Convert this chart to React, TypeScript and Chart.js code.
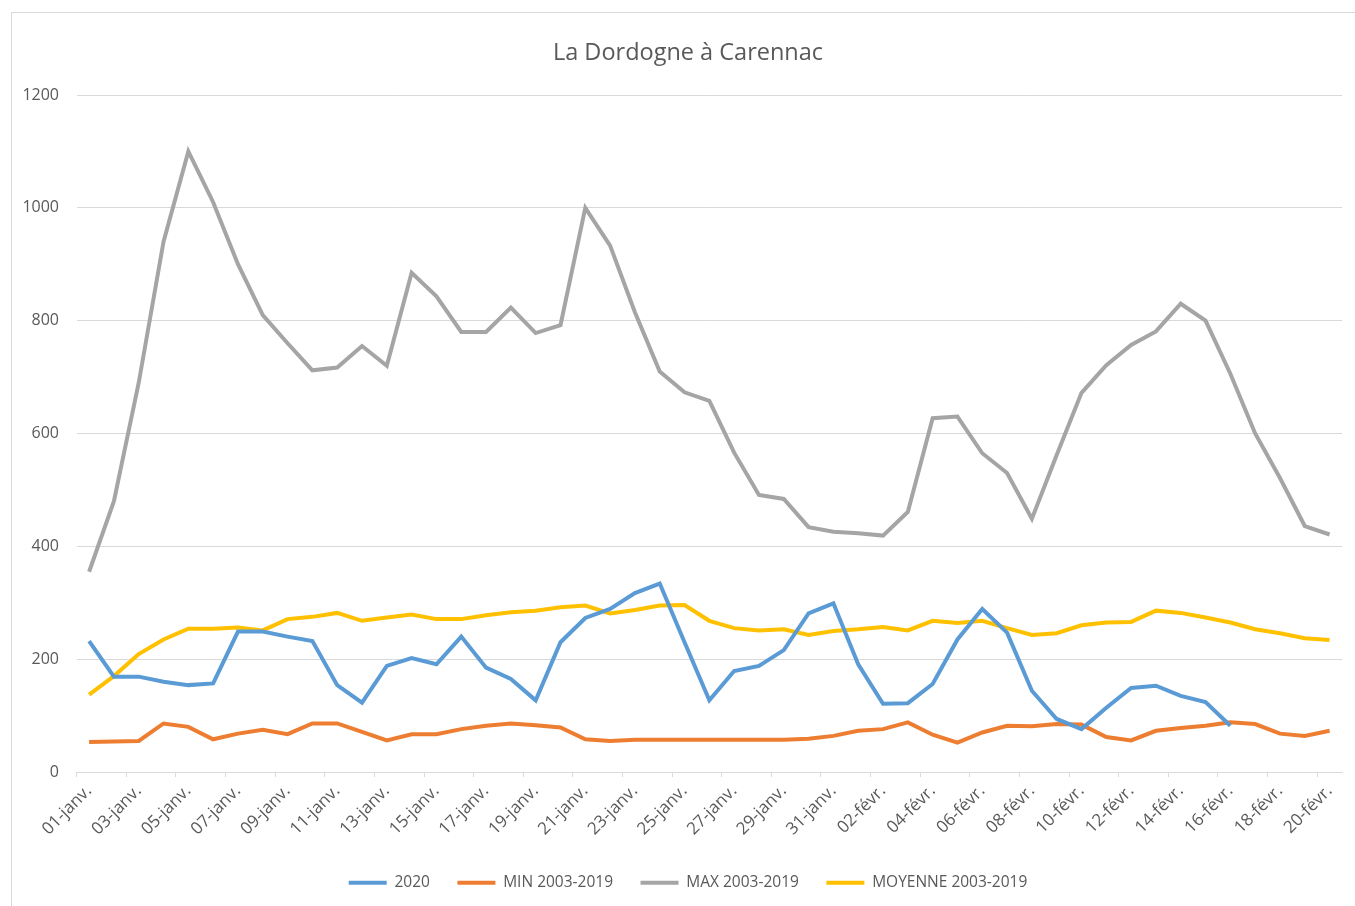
import React, { useEffect, useRef } from "react";
import { Chart, registerables } from "chart.js";

Chart.register(...registerables);

const dayLabels: string[] = [
  "01-janv.", "02-janv.", "03-janv.", "04-janv.", "05-janv.", "06-janv.", "07-janv.", "08-janv.", "09-janv.", "10-janv.",
  "11-janv.", "12-janv.", "13-janv.", "14-janv.", "15-janv.", "16-janv.", "17-janv.", "18-janv.", "19-janv.", "20-janv.",
  "21-janv.", "22-janv.", "23-janv.", "24-janv.", "25-janv.", "26-janv.", "27-janv.", "28-janv.", "29-janv.", "30-janv.",
  "31-janv.", "01-févr.", "02-févr.", "03-févr.", "04-févr.", "05-févr.", "06-févr.", "07-févr.", "08-févr.", "09-févr.",
  "10-févr.", "11-févr.", "12-févr.", "13-févr.", "14-févr.", "15-févr.", "16-févr.", "17-févr.", "18-févr.", "19-févr.",
  "20-févr.",
];

const serie2020: (number | null)[] = [
  232, 169, 169, 160, 154, 157, 249, 249, 240, 232,
  154, 123, 188, 202, 191, 240, 185, 165, 127, 230,
  273, 289, 317, 334, 230, 127, 179, 188, 216, 281,
  299, 191, 121, 122, 156, 235, 289, 247, 144, 94,
  76, 114, 149, 153, 135, 124, 82, null, null, null, null,
];

const serieMin: number[] = [
  53, 54, 55, 86, 80, 58, 68, 75, 67, 86,
  86, 71, 56, 67, 67, 76, 82, 86, 83, 79,
  58, 55, 57, 57, 57, 57, 57, 57, 57, 59,
  64, 73, 76, 88, 66, 52, 70, 82, 81, 85,
  84, 62, 56, 73, 78, 82, 88, 85, 68, 64, 73,
];

const serieMax: number[] = [
  355, 480, 690, 940, 1100, 1010, 900, 810, 760, 712,
  717, 755, 720, 885, 843, 780, 780, 823, 778, 792,
  1000, 933, 815, 710, 673, 658, 566, 491, 484, 434,
  426, 423, 419, 461, 627, 630, 565, 530, 449, 562,
  672, 721, 757, 781, 830, 800, 706, 600, 521, 436, 421,
];

const serieMoyenne: number[] = [
  137, 170, 209, 235, 254, 254, 256, 251, 271, 275,
  282, 268, 274, 279, 271, 271, 278, 283, 286, 292,
  295, 281, 287, 295, 296, 268, 255, 251, 253, 243,
  250, 253, 257, 251, 268, 264, 268, 255, 243, 246,
  260, 265, 266, 286, 282, 274, 265, 253, 246, 237, 234,
];

const seriesNames = ["2020", "MIN 2003-2019", "MAX 2003-2019", "MOYENNE 2003-2019"];
const seriesColors = ["#5B9BD5", "#ED7D31", "#A5A5A5", "#FFC000"];

const TEXT = "#595959";
const GRID = "#D9D9D9";
const FONT = "'Open Sans', 'Noto Sans', sans-serif";

export default function App() {
  const canvasRef = useRef<HTMLCanvasElement | null>(null);

  useEffect(() => {
    if (!canvasRef.current) return;
    const values = [serie2020, serieMin, serieMax, serieMoyenne];
    const chart = new Chart(canvasRef.current, {
      type: "line",
      data: {
        labels: dayLabels,
        datasets: values.map((v, i) => ({
          label: seriesNames[i],
          data: v,
          borderColor: seriesColors[i],
          backgroundColor: seriesColors[i],
          borderWidth: 4,
          pointRadius: 0,
          tension: 0,
          spanGaps: false,
          borderCapStyle: "butt" as const,
          borderJoinStyle: "miter" as const,
          yAxisID: "y",
        })),
      },
      options: {
        animation: false,
        responsive: true,
        maintainAspectRatio: false,
        layout: { padding: { left: 0, right: 0, top: 0, bottom: 5.5 } },
        plugins: {
          title: {
            display: true,
            text: "La Dordogne à Carennac",
            color: TEXT,
            font: { family: FONT, size: 23.5, weight: "normal" },
            padding: { top: 39, bottom: 27.8 },
          },
          legend: {
            display: true,
            position: "bottom",
            labels: {
              color: TEXT,
              font: { family: FONT, size: 15.5 },
              boxWidth: 38,
              boxHeight: 4,
              padding: 27.5,
              generateLabels: (c: any) =>
                Chart.defaults.plugins.legend.labels
                  .generateLabels(c)
                  .map((l: any) => ({ ...l, lineWidth: 0, fillStyle: l.strokeStyle })),
            },
          },
          tooltip: { enabled: false },
        },
        scales: {
          x: {
            type: "category",
            offset: true,
            afterFit: (s: any) => {
              s.height = 75.5;
            },
            grid: {
              offset: true,
              drawOnChartArea: false,
              drawTicks: true,
              tickLength: 5,
              color: GRID,
              tickColor: (ctx: any) => (ctx.index % 2 === 0 ? GRID : "rgba(0,0,0,0)"),
            },
            border: { display: true, color: GRID, width: 1 },
            ticks: {
              autoSkip: false,
              minRotation: 45,
              maxRotation: 45,
              padding: 4,
              color: TEXT,
              font: { family: FONT, size: 17 },
              callback: (_v: any, i: number) => (i % 2 === 0 ? dayLabels[i] : ""),
            },
          },
          y: {
            position: "left",
            min: 0,
            max: 1200,
            afterFit: (s: any) => {
              s.width = 76.7;
            },
            grid: { color: GRID, lineWidth: 1, drawTicks: false },
            border: { display: false },
            ticks: {
              stepSize: 200,
              padding: 17.7,
              color: TEXT,
              font: { family: FONT, size: 16 },
              callback: (v: any) => String(v),
            },
          },
          yRight: {
            type: "linear",
            position: "right",
            display: true,
            min: 0,
            max: 1,
            afterFit: (s: any) => {
              s.width = 34;
            },
            grid: { display: false, drawOnChartArea: false, drawTicks: false },
            border: { display: false },
            ticks: { display: false },
          },
        },
      },
    });
    return () => chart.destroy();
  }, []);

  return (
    <div
      style={{
        position: "fixed",
        left: 0,
        top: 0,
        width: 1355,
        height: 906,
        overflow: "hidden",
        background: "#ffffff",
      }}
    >
      <div
        style={{
          position: "absolute",
          left: 11,
          top: 12,
          width: 2000,
          height: 2000,
          borderLeft: "1px solid #D9D9D9",
          borderTop: "1px solid #D9D9D9",
        }}
      />
      <div style={{ position: "absolute", left: 0, top: 0, width: 1376, height: 906 }}>
        <canvas ref={canvasRef} />
      </div>
    </div>
  );
}
